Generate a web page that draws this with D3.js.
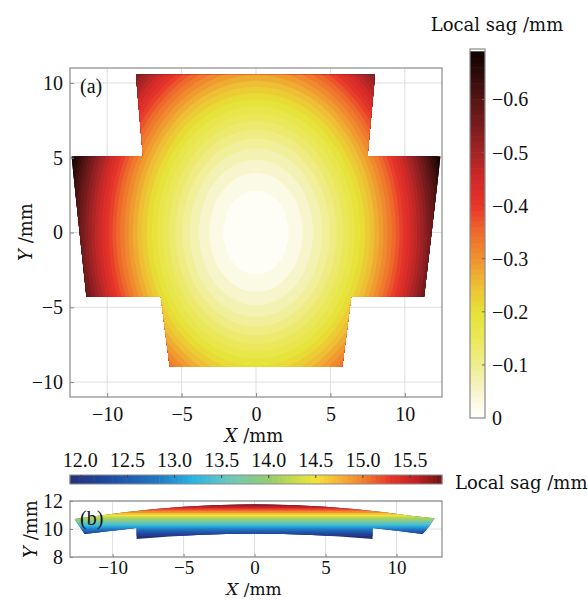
<!DOCTYPE html>
<html>
<head>
<meta charset="utf-8">
<script src="https://cdn.jsdelivr.net/npm/d3@7"></script>
<style>
  body { margin: 0; background: #fff; }
  svg { display: block; }
  .num { font-family: "Liberation Serif", serif; font-size: 20px; fill: #111; }
  .lbl { font-family: "DejaVu Serif", serif; font-size: 18px; fill: #111; }
  .grid line { stroke: #dedede; stroke-width: 1; }
  .axis .domain { display: none; }
  .axis line { stroke: #888; }
</style>
</head>
<body>
<svg id="chart" width="588" height="600"></svg>
<script>
// ---- data ----

// (a) outline of the measured aperture (mm)
const outlineAX = [-8.07, 8.0, 7.5, 12.4, 11.3, 6.4, 5.8, -5.8, -6.4, -11.4, -12.4, -7.6];
const outlineAY = [10.55, 10.55, 5.1, 5.1, -4.3, -4.3, -9.0, -9.0, -4.3, -4.3, 5.1, 5.1];

// (a) filled contour levels of local sag (mm) and the semi-axes of each elliptic contour (mm)
const sagLevels = [-0.68, -0.66, -0.64, -0.62, -0.60, -0.58, -0.56, -0.54, -0.52, -0.50,
                   -0.48, -0.46, -0.44, -0.42, -0.40, -0.38, -0.36, -0.34, -0.32, -0.30,
                   -0.28, -0.26, -0.24, -0.22, -0.20, -0.18, -0.16, -0.14, -0.12, -0.10,
                   -0.08, -0.06, -0.04, -0.02];
const contourRx = [12.91, 12.71, 12.52, 12.32, 12.12, 11.92, 11.71, 11.50, 11.29, 11.07,
                   10.84, 10.61, 10.38, 10.14, 9.90, 9.65, 9.39, 9.13, 8.85, 8.57,
                   8.28, 7.98, 7.67, 7.34, 7.00, 6.64, 6.26, 5.86, 5.42, 4.95,
                   4.43, 3.83, 3.13, 2.21];
const contourRy = [16.41, 16.17, 15.92, 15.67, 15.41, 15.16, 14.89, 14.62, 14.35, 14.07,
                   13.79, 13.50, 13.20, 12.90, 12.59, 12.27, 11.94, 11.60, 11.26, 10.90,
                   10.53, 10.15, 9.75, 9.33, 8.90, 8.44, 7.96, 7.45, 6.89, 6.29,
                   5.63, 4.87, 3.98, 2.81];

// (a) colorbar ticks
const sagTicksA = [0, -0.1, -0.2, -0.3, -0.4, -0.5, -0.6];

// (b) outline of the side view (mm)
const outlineBX = [-12.68, -11, -9, -7, -5, -3, -1, 0, 1, 3, 5, 7, 9, 11, 12.68,
                   12.3, 11.83, 10, 8.31, 8.31, 6, 4, 2, 0, -2, -4, -6, -8.31, -8.31, -10, -11.97];
const outlineBY = [10.71, 10.94, 11.21, 11.43, 11.59, 11.70, 11.75, 11.76, 11.75, 11.70, 11.59, 11.43, 11.21, 10.94, 10.77,
                   10.2, 9.64, 9.87, 10.07, 9.29, 9.47, 9.57, 9.64, 9.66, 9.64, 9.57, 9.47, 9.29, 10.07, 9.87, 9.64];

// (b) sag value at a given height Y (mm): contours run horizontally
const bandSag = [12.0, 12.2, 12.4, 12.6, 12.8, 13.0, 13.2, 13.4, 13.6, 13.8,
                 14.0, 14.2, 14.4, 14.6, 14.8, 15.0, 15.2, 15.4, 15.6, 15.8];
const bandY   = [9.52, 9.64, 9.76, 9.88, 10.00, 10.11, 10.23, 10.35, 10.47, 10.58,
                 10.70, 10.82, 10.94, 11.05, 11.17, 11.29, 11.41, 11.52, 11.64, 11.76];

// (b) colorbar ticks
const sagTicksB = [12.0, 12.5, 13.0, 13.5, 14.0, 14.5, 15.0, 15.5];

// ---- colour maps ----
const hotColor = d3.scaleLinear()
    .domain([0, -0.03, -0.06, -0.1, -0.15, -0.2, -0.25, -0.3, -0.35, -0.4, -0.45, -0.5, -0.55, -0.6, -0.65, -0.7])
    .range(['#ffffff', '#fbfae4', '#f5f3c0', '#efed8c', '#eae858', '#e6e236', '#eebe34', '#f0922e', '#ee6a2c',
            '#e8342a', '#d02a28', '#a42426', '#7a1c1e', '#561414', '#2c0a0a', '#0a0000'])
    .clamp(true);

const jetColor = d3.scaleLinear()
    .domain([11.89, 12.3, 12.8, 13.2, 13.6, 14.0, 14.3, 14.5, 14.75, 15.0, 15.3, 15.55, 15.84])
    .range(['#26307a', '#1f4aa0', '#2076c0', '#28b4e4', '#6ec8b8', '#94cc70', '#cedc48', '#f2e43a',
            '#f6b232', '#f28030', '#e8342a', '#c42026', '#6e1616'])
    .clamp(true);

const svg = d3.select('#chart');
const defs = svg.append('defs');
const fmtNum = d => d3.format('.1f')(d);

// ================= panel (a) =================
const xA = d3.scaleLinear().domain([-12.5, 12.5]).range([70, 442]);
const yA = d3.scaleLinear().domain([-11, 11]).range([397, 68]);
const ticksA = [-10, -5, 0, 5, 10];

// grid
const gridA = svg.append('g').attr('class', 'grid');
gridA.selectAll('.gx').data(ticksA).join('line')
    .attr('x1', d => xA(d)).attr('x2', d => xA(d)).attr('y1', yA(-11)).attr('y2', yA(11));
gridA.selectAll('.gy').data(ticksA).join('line')
    .attr('y1', d => yA(d)).attr('y2', d => yA(d)).attr('x1', xA(-12.5)).attr('x2', xA(12.5));

// aperture clip
const ptsA = outlineAX.map((x, i) => [xA(x), yA(outlineAY[i])]);
defs.append('clipPath').attr('id', 'clipA')
  .append('path').attr('d', d3.line()(ptsA) + 'Z');

const fieldA = svg.append('g').attr('clip-path', 'url(#clipA)');
fieldA.append('rect')
    .attr('x', xA(-12.5)).attr('y', yA(11))
    .attr('width', xA(12.5) - xA(-12.5)).attr('height', yA(-11) - yA(11))
    .attr('fill', hotColor(-0.69));
fieldA.selectAll('ellipse').data(sagLevels).join('ellipse')
    .attr('cx', xA(0)).attr('cy', yA(0))
    .attr('rx', (d, i) => xA(contourRx[i]) - xA(0))
    .attr('ry', (d, i) => yA(0) - yA(contourRy[i]))
    .attr('fill', d => hotColor(d + 0.01));

// frame + axes
svg.append('rect').attr('x', 70).attr('y', 68).attr('width', 372).attr('height', 329)
    .attr('fill', 'none').attr('stroke', '#8a8a8a').attr('stroke-width', 1.2);

svg.append('g').attr('class', 'axis').attr('transform', `translate(0,${yA(-11)})`)
    .call(d3.axisBottom(xA).tickValues(ticksA).tickSize(-4).tickPadding(10).tickFormat(d3.format('d')))
    .call(g => g.selectAll('text').attr('class', 'num').attr('font-family', null).attr('font-size', null));
svg.append('g').attr('class', 'axis').attr('transform', `translate(${xA(-12.5)},0)`)
    .call(d3.axisLeft(yA).tickValues(ticksA).tickSize(-4).tickPadding(7).tickFormat(d3.format('d')))
    .call(g => g.selectAll('text').attr('class', 'num').attr('font-family', null).attr('font-size', null));

svg.append('text').attr('class', 'num').attr('x', 80).attr('y', 93).text('(a)');

svg.append('text').attr('class', 'lbl').attr('x', 254).attr('y', 442).attr('text-anchor', 'middle')
    .call(t => { t.append('tspan').attr('font-style', 'italic').text('X'); t.append('tspan').text(' /mm'); });
svg.append('text').attr('class', 'lbl').attr('text-anchor', 'middle')
    .attr('transform', 'translate(32,232) rotate(-90)')
    .call(t => { t.append('tspan').attr('font-style', 'italic').text('Y'); t.append('tspan').text(' /mm'); });

// colorbar (a)
const cbA = d3.scaleLinear().domain([0, -0.695]).range([418, 49]);
const stepsA = d3.range(0, -0.69, -0.01);
svg.append('g').selectAll('rect').data(stepsA).join('rect')
    .attr('x', 470).attr('width', 15)
    .attr('y', d => cbA(d - 0.01) - 0.3)
    .attr('height', d => cbA(d) - cbA(d - 0.01) + 0.6)
    .attr('fill', d => hotColor(d - 0.005));
svg.append('rect').attr('x', 470).attr('y', 49).attr('width', 15).attr('height', 369)
    .attr('fill', 'none').attr('stroke', '#8a8a8a').attr('stroke-width', 1.2);
svg.append('g').selectAll('line').data(sagTicksA.slice(1)).join('line')
    .attr('x1', 482).attr('x2', 485).attr('y1', d => cbA(d)).attr('y2', d => cbA(d))
    .attr('stroke', '#666');
svg.append('g').selectAll('text').data(sagTicksA).join('text')
    .attr('class', 'num').attr('x', 492).attr('y', d => cbA(d)).attr('dy', '0.35em')
    .text(d => d === 0 ? '0' : fmtNum(d));
svg.append('text').attr('class', 'lbl').attr('x', 497).attr('y', 31).attr('text-anchor', 'middle')
    .text('Local sag /mm');

// ================= panel (b) =================
const xB = d3.scaleLinear().domain([-13, 13.2]).range([70, 442]);
const yB = d3.scaleLinear().domain([8, 12]).range([557, 501]);
const ticksBy = [8, 10, 12];

// colorbar (b)
const cbB = d3.scaleLinear().domain([11.89, 15.84]).range([70, 442]);
const stepsB = d3.range(11.89, 15.84, 0.05);
svg.append('g').selectAll('rect').data(stepsB).join('rect')
    .attr('x', d => cbB(d) - 0.3).attr('width', d => cbB(d + 0.05) - cbB(d) + 0.6)
    .attr('y', 475).attr('height', 9)
    .attr('fill', d => jetColor(d + 0.025));
svg.append('rect').attr('x', 70).attr('y', 475).attr('width', 372).attr('height', 9)
    .attr('fill', 'none').attr('stroke', '#8a8a8a').attr('stroke-width', 1);
svg.append('g').selectAll('line').data(sagTicksB).join('line')
    .attr('x1', d => cbB(d)).attr('x2', d => cbB(d)).attr('y1', 475).attr('y2', 478)
    .attr('stroke', '#444');
svg.append('g').selectAll('text').data(sagTicksB).join('text')
    .attr('class', 'num').attr('x', d => cbB(d)).attr('y', 467).attr('text-anchor', 'middle')
    .text(fmtNum);
svg.append('text').attr('class', 'lbl').attr('x', 455).attr('y', 489).text('Local sag /mm');

// grid (b)
const gridB = svg.append('g').attr('class', 'grid');
gridB.selectAll('.gx').data(ticksA).join('line')
    .attr('x1', d => xB(d)).attr('x2', d => xB(d)).attr('y1', yB(8)).attr('y2', yB(12));
gridB.selectAll('.gy').data(ticksBy).join('line')
    .attr('y1', d => yB(d)).attr('y2', d => yB(d)).attr('x1', xB(-13)).attr('x2', xB(13.2));

// clip (b)
const ptsB = outlineBX.map((x, i) => [xB(x), yB(outlineBY[i])]);
defs.append('clipPath').attr('id', 'clipB')
  .append('path').attr('d', d3.line()(ptsB) + 'Z');

const fieldB = svg.append('g').attr('clip-path', 'url(#clipB)');
fieldB.append('rect')
    .attr('x', xB(-13)).attr('width', xB(13.2) - xB(-13))
    .attr('y', yB(12)).attr('height', yB(8) - yB(12))
    .attr('fill', jetColor(11.89));
fieldB.append('rect')
    .attr('x', xB(-13)).attr('width', xB(13.2) - xB(-13))
    .attr('y', yB(12)).attr('height', yB(bandY[bandY.length - 1]) - yB(12))
    .attr('fill', jetColor(15.84));
fieldB.selectAll('.band').data(bandSag.slice(0, -1)).join('rect')
    .attr('x', xB(-13)).attr('width', xB(13.2) - xB(-13))
    .attr('y', (d, i) => yB(bandY[i + 1]) - 0.3)
    .attr('height', (d, i) => yB(bandY[i]) - yB(bandY[i + 1]) + 0.6)
    .attr('fill', (d, i) => jetColor((d + bandSag[i + 1]) / 2));

// frame + axes (b)
svg.append('rect').attr('x', 70).attr('y', 501).attr('width', 372).attr('height', 56)
    .attr('fill', 'none').attr('stroke', '#8a8a8a').attr('stroke-width', 1.2);
svg.append('g').attr('class', 'axis').attr('transform', `translate(0,${yB(8)})`)
    .call(d3.axisBottom(xB).tickValues(ticksA).tickSize(-3).tickPadding(3).tickFormat(d3.format('d')))
    .call(g => g.selectAll('text').attr('class', 'num').attr('font-family', null).attr('font-size', null)
        .style('font-size', '19px'));
svg.append('g').attr('class', 'axis').attr('transform', `translate(${xB(-13)},0)`)
    .call(d3.axisLeft(yB).tickValues(ticksBy).tickSize(-3).tickPadding(7).tickFormat(d3.format('d')))
    .call(g => g.selectAll('text').attr('class', 'num').attr('font-family', null).attr('font-size', null));

svg.append('text').attr('class', 'num').attr('x', 80).attr('y', 525).text('(b)');

svg.append('text').attr('class', 'lbl').attr('x', 254).attr('y', 595).attr('text-anchor', 'middle')
    .style('font-size', '17px')
    .call(t => { t.append('tspan').attr('font-style', 'italic').text('X'); t.append('tspan').text(' /mm'); });
svg.append('text').attr('class', 'lbl').attr('text-anchor', 'middle')
    .attr('transform', 'translate(37,529) rotate(-90)')
    .call(t => { t.append('tspan').attr('font-style', 'italic').text('Y'); t.append('tspan').text(' /mm'); });
</script>
</body>
</html>
